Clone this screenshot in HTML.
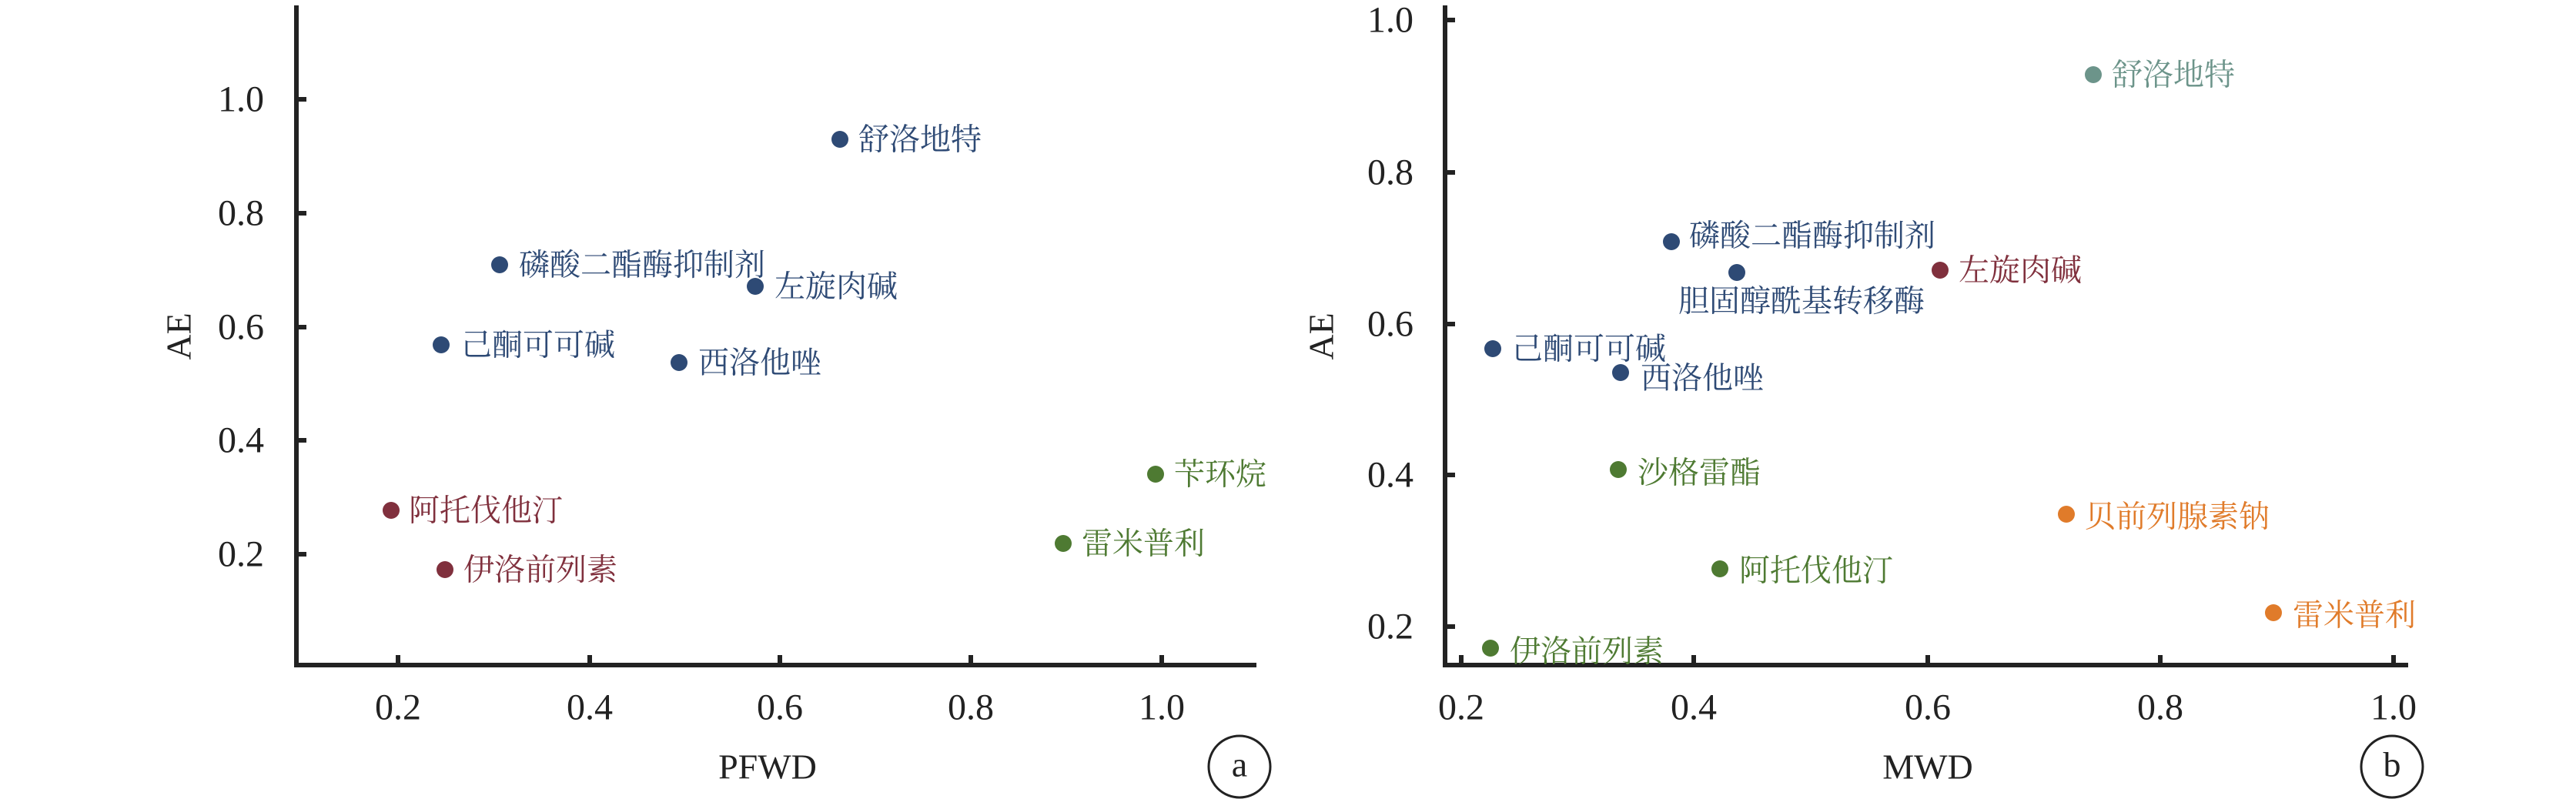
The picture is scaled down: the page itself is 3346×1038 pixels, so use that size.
<!DOCTYPE html>
<html><head><meta charset="utf-8"><style>
html,body{margin:0;padding:0;background:#fff;}
svg{display:block;}
.t{font-family:"Liberation Serif",serif;font-size:48px;fill:#222;}
.tt{font-family:"Liberation Serif",serif;font-size:46px;fill:#222;}
.c{font-family:"Liberation Serif","Noto Serif CJK SC","Noto Sans CJK SC",serif;font-size:40px;}
</style></head><body>
<svg width="3346" height="1038" viewBox="0 0 3346 1038" xmlns="http://www.w3.org/2000/svg">
<g stroke="#222" stroke-width="6" fill="none">
<path d="M385 7 V864 H1632"/>
<path d="M385 129 h13 M385 277 h13 M385 425 h13 M385 572 h13 M385 720 h13"/>
<path d="M517 864 v-13 M766 864 v-13 M1013 864 v-13 M1261 864 v-13 M1509 864 v-13"/>
<circle cx="1610" cy="996" r="40" stroke-width="3"/>
<path d="M1877 7 V864 H3128"/>
<path d="M1877 26 h13 M1877 224 h13 M1877 421 h13 M1877 617 h13 M1877 814 h13"/>
<path d="M1898 864 v-13 M2200 864 v-13 M2504 864 v-13 M2806 864 v-13 M3109 864 v-13"/>
<circle cx="3107" cy="996" r="40" stroke-width="3"/>
</g>
<g class="t" text-anchor="end" dominant-baseline="central">
<text x="343" y="129">1.0</text><text x="343" y="277">0.8</text><text x="343" y="425">0.6</text><text x="343" y="572">0.4</text><text x="343" y="720">0.2</text>
<text x="1836" y="26">1.0</text><text x="1836" y="224">0.8</text><text x="1836" y="421">0.6</text><text x="1836" y="617">0.4</text><text x="1836" y="814">0.2</text>
</g>
<g class="t" text-anchor="middle" dominant-baseline="central">
<text x="517" y="919">0.2</text><text x="766" y="919">0.4</text><text x="1013" y="919">0.6</text><text x="1261" y="919">0.8</text><text x="1509" y="919">1.0</text>
<text x="1898" y="919">0.2</text><text x="2200" y="919">0.4</text><text x="2504" y="919">0.6</text><text x="2806" y="919">0.8</text><text x="3109" y="919">1.0</text>
</g>
<g class="tt" text-anchor="middle" dominant-baseline="central">
<text x="997" y="996">PFWD</text><text x="2504" y="996">MWD</text>
<text x="1610" y="993">a</text><text x="3107" y="993">b</text>
<text transform="translate(232,437) rotate(-90)">AE</text>
<text transform="translate(1716,437) rotate(-90)">AE</text>
</g>
<g class="c" dominant-baseline="central">
<g fill="#2e4a75">
<circle cx="1091" cy="181" r="11"/><text x="1115" y="181">舒洛地特</text>
<circle cx="649" cy="344" r="11"/><text x="674" y="344">磷酸二酯酶抑制剂</text>
<circle cx="981" cy="372" r="11"/><text x="1006" y="372">左旋肉碱</text>
<circle cx="573" cy="448" r="11"/><text x="599" y="448">己酮可可碱</text>
<circle cx="882" cy="471" r="11"/><text x="907" y="471">西洛他唑</text>
</g>
<g fill="#4e7a32">
<circle cx="1501" cy="616" r="11"/><text x="1525" y="616">苄环烷</text>
<circle cx="1381" cy="706" r="11"/><text x="1405" y="706">雷米普利</text>
</g>
<g fill="#80303d">
<circle cx="508" cy="663" r="11"/><text x="531" y="663">阿托伐他汀</text>
<circle cx="578" cy="740" r="11"/><text x="602" y="740">伊洛前列素</text>
</g>
<g fill="#6c948a"><circle cx="2719" cy="97" r="11"/><text x="2743" y="97">舒洛地特</text></g>
<g fill="#2e4a75">
<circle cx="2171" cy="314" r="11"/><text x="2194" y="306">磷酸二酯酶抑制剂</text>
<circle cx="2256" cy="354" r="11"/><text x="2180" y="391">胆固醇酰基转移酶</text>
<circle cx="1939" cy="453" r="11"/><text x="1964" y="453">己酮可可碱</text>
<circle cx="2105" cy="484" r="11"/><text x="2131" y="491">西洛他唑</text>
</g>
<g fill="#80303d"><circle cx="2520" cy="351" r="11"/><text x="2544" y="351">左旋肉碱</text></g>
<g fill="#4e7a32">
<circle cx="2102" cy="610" r="11"/><text x="2127" y="614">沙格雷酯</text>
<circle cx="2234" cy="739" r="11"/><text x="2259" y="741">阿托伐他汀</text>
<circle cx="1936" cy="842" r="11"/><text x="1961" y="846">伊洛前列素</text>
</g>
<g fill="#e07b2a">
<circle cx="2684" cy="668" r="11"/><text x="2708" y="671">贝前列腺素钠</text>
<circle cx="2953" cy="796" r="11"/><text x="2978" y="799">雷米普利</text>
</g>
</g>
</svg>
</body></html>
